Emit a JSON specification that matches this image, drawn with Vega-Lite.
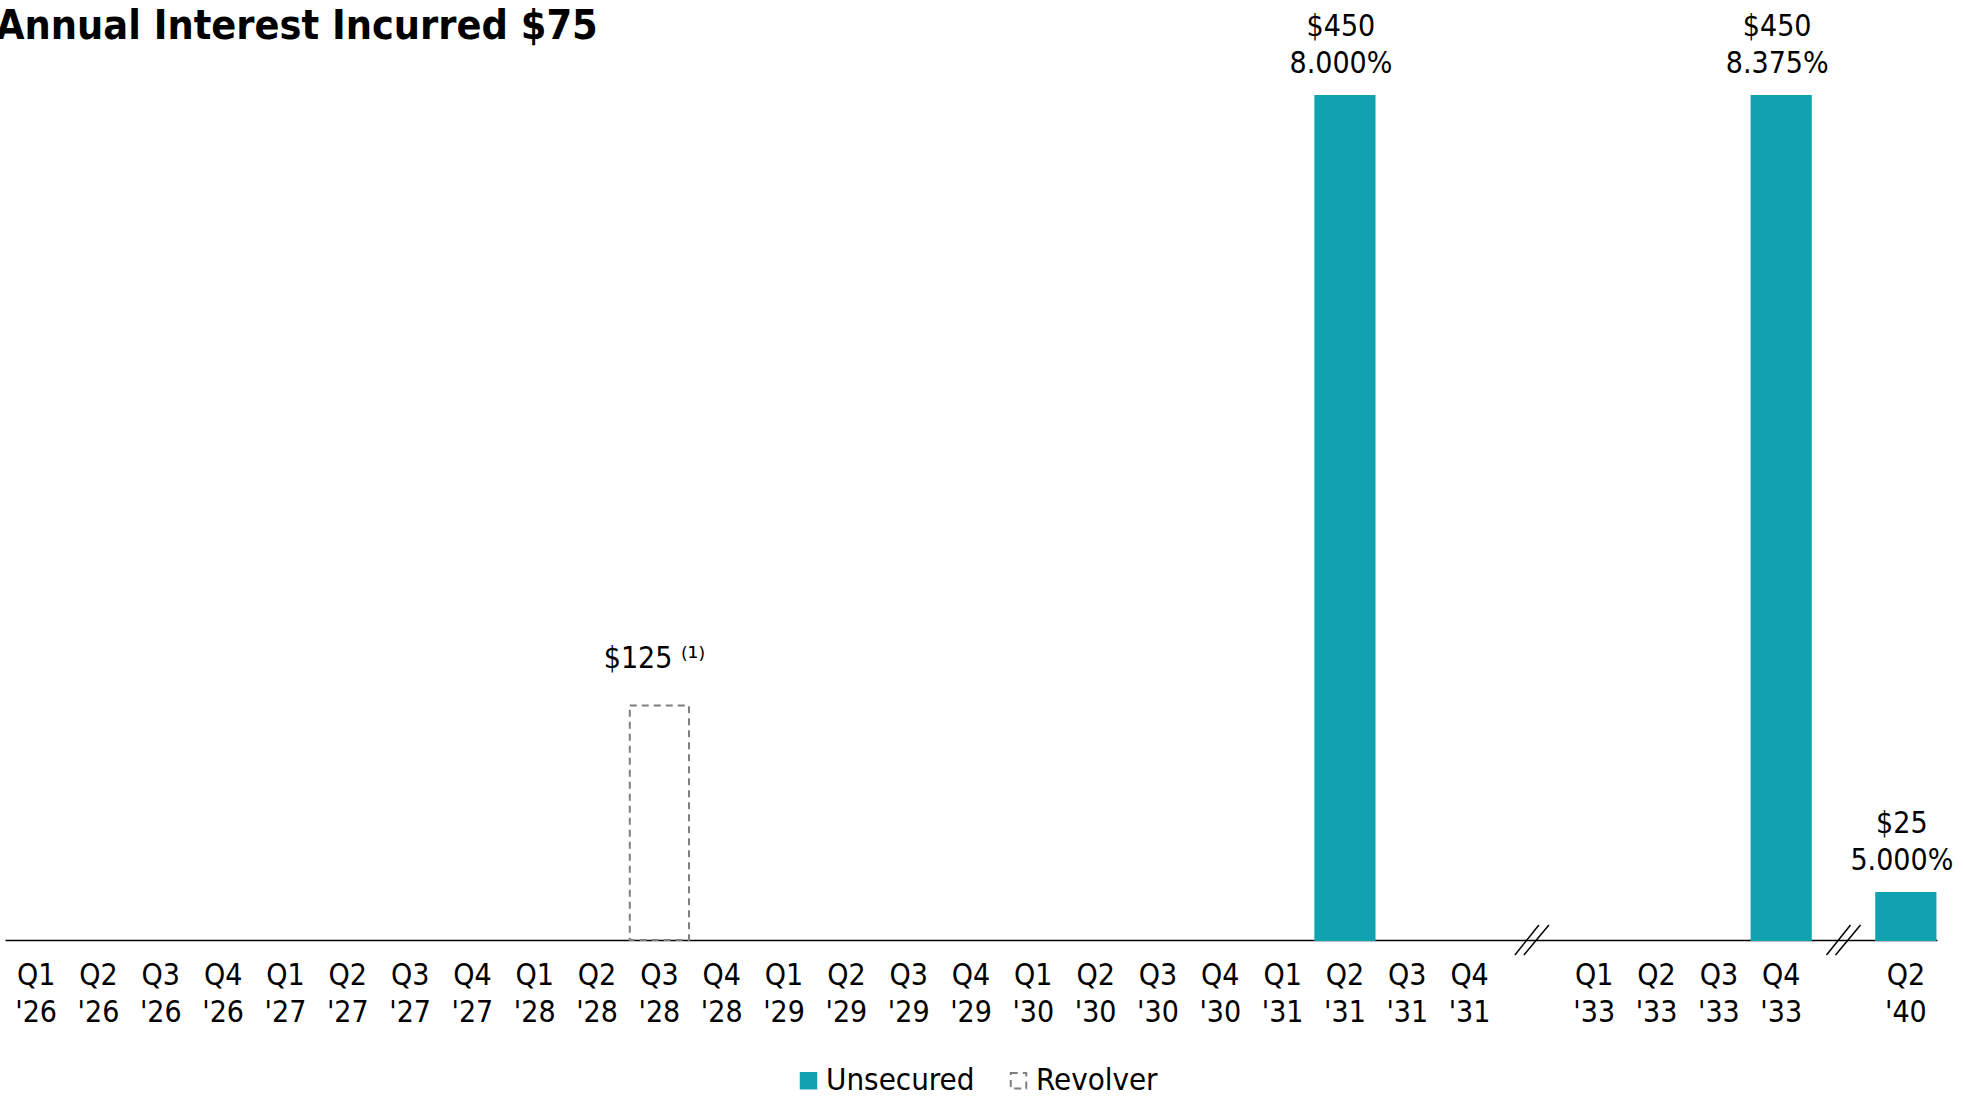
{
  "$schema": "https://vega.github.io/schema/vega-lite/v6.json",
  "width": 1932,
  "height": 844,
  "autosize": {"type": "none"},
  "padding": {"left": 5, "top": 96, "right": 26, "bottom": 156},
  "background": "white",
  "config": {
    "view": {"stroke": null},
    "font": "DejaVu Sans Condensed"
  },
  "title": {
    "text": "Annual Interest Incurred $75",
    "font": "DejaVu Sans Condensed",
    "fontSize": 41,
    "fontWeight": "bold",
    "color": "black",
    "anchor": "start",
    "frame": "group",
    "offset": 0,
    "dx": -9,
    "dy": 36
  },
  "datasets": {
    "bars": [
      {"quarter": "Q3 '28", "type": "Revolver", "amount": 125, "label": "$125 ⁽¹⁾"},
      {"quarter": "Q2 '31", "type": "Unsecured", "amount": 450, "label": "$450\n8.000%"},
      {"quarter": "Q4 '33", "type": "Unsecured", "amount": 450, "label": "$450\n8.375%"},
      {"quarter": "Q2 '40", "type": "Unsecured", "amount": 25, "label": "$25\n5.000%"}
    ],
    "breaks": [
      {"quarter": "brk1", "v": 0},
      {"quarter": "brk2", "v": 0}
    ]
  },
  "encoding": {
    "x": {
      "field": "quarter",
      "type": "nominal",
      "title": null,
      "scale": {
        "domain": ["Q1 '26", "Q2 '26", "Q3 '26", "Q4 '26", "Q1 '27", "Q2 '27", "Q3 '27", "Q4 '27", "Q1 '28", "Q2 '28", "Q3 '28", "Q4 '28", "Q1 '29", "Q2 '29", "Q3 '29", "Q4 '29", "Q1 '30", "Q2 '30", "Q3 '30", "Q4 '30", "Q1 '31", "Q2 '31", "Q3 '31", "Q4 '31", "brk1", "Q1 '33", "Q2 '33", "Q3 '33", "Q4 '33", "brk2", "Q2 '40"],
        "paddingInner": 0.05,
        "paddingOuter": 0.025
      },
      "axis": {
        "labelExpr": "indexof(datum.value, 'brk') == 0 ? '' : split(datum.value, ' ')",
        "labelAngle": 0,
        "labelFont": "DejaVu Sans Condensed",
        "labelFontSize": 30,
        "labelColor": "black",
        "labelLineHeight": 37,
        "labelBaseline": "top",
        "labelPadding": 20,
        "ticks": false,
        "grid": false,
        "domainColor": "black",
        "domainWidth": 1.5,
        "labelOverlap": false
      }
    }
  },
  "layer": [
    {
      "data": {"name": "bars"},
      "mark": {"type": "bar", "strokeWidth": 2},
      "encoding": {
        "y": {"field": "amount", "type": "quantitative", "scale": {"domain": [0, 450]}, "axis": null},
        "fill": {
          "field": "type", "type": "nominal",
          "scale": {"domain": ["Unsecured", "Revolver"], "range": ["#11A2B1", "transparent"]},
          "legend": {"orient": "none", "legendX": 788, "legendY": 969, "direction": "horizontal", "title": null, "symbolType": "square", "symbolSize": 240, "labelFontSize": 31, "labelFont": "DejaVu Sans Condensed", "labelColor": "black", "columnPadding": 28, "labelOffset": 2, "symbolStrokeWidth": 2, "padding": 0}
        },
        "stroke": {
          "field": "type", "type": "nominal",
          "scale": {"domain": ["Unsecured", "Revolver"], "range": ["#11A2B1", "#7F7F7F"]},
          "legend": {"orient": "none", "legendX": 788, "legendY": 969, "direction": "horizontal", "title": null, "symbolType": "square", "symbolSize": 240, "labelFontSize": 31, "labelFont": "DejaVu Sans Condensed", "labelColor": "black", "columnPadding": 28, "labelOffset": 2, "symbolStrokeWidth": 2, "padding": 0}
        },
        "strokeDash": {
          "field": "type", "type": "nominal",
          "scale": {"domain": ["Unsecured", "Revolver"], "range": [[1, 0], [7, 5]]},
          "legend": {"orient": "none", "legendX": 788, "legendY": 969, "direction": "horizontal", "title": null, "symbolType": "square", "symbolSize": 240, "labelFontSize": 31, "labelFont": "DejaVu Sans Condensed", "labelColor": "black", "columnPadding": 28, "labelOffset": 2, "symbolStrokeWidth": 2, "padding": 0}
        }
      }
    },
    {
      "data": {"name": "bars"},
      "transform": [{"filter": "datum.type == 'Unsecured'"}],
      "mark": {"type": "text", "baseline": "bottom", "align": "center", "dx": -4, "dy": -54, "fontSize": 30, "lineHeight": 37, "lineBreak": "\n", "color": "black", "font": "DejaVu Sans Condensed"},
      "encoding": {
        "y": {"field": "amount", "type": "quantitative"},
        "text": {"field": "label"}
      }
    },
    {
      "data": {"name": "bars"},
      "transform": [{"filter": "datum.type == 'Revolver'"}],
      "mark": {"type": "text", "baseline": "bottom", "align": "center", "dx": -5, "dy": -32, "fontSize": 30, "color": "black", "font": "DejaVu Sans Condensed"},
      "encoding": {
        "y": {"field": "amount", "type": "quantitative"},
        "text": {"field": "label"}
      }
    },
    {
      "data": {"name": "breaks"},
      "mark": {"type": "point", "shape": "M-1,0.88L0.41,-0.88M-0.47,0.88L1,-0.88", "filled": false, "stroke": "black", "strokeWidth": 1.5, "size": 1156, "opacity": 1},
      "encoding": {
        "y": {"field": "v", "type": "quantitative"}
      }
    }
  ]
}
